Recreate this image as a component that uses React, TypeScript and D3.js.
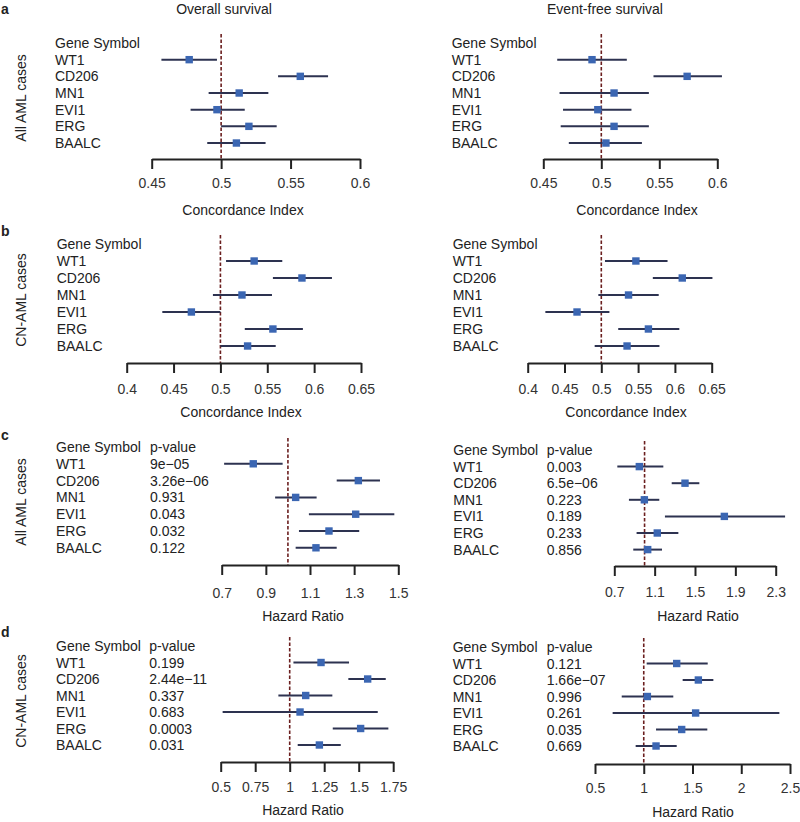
import React, {useEffect, useRef} from 'react';
import * as d3 from 'd3';

const genes = ['WT1', 'CD206', 'MN1', 'EVI1', 'ERG', 'BAALC'];

// a: concordance index, all AML cases
const osAllCi = [0.477, 0.557, 0.513, 0.497, 0.520, 0.511];
const osAllCiLow = [0.457, 0.541, 0.491, 0.478, 0.500, 0.490];
const osAllCiHigh = [0.497, 0.577, 0.534, 0.517, 0.540, 0.532];
const efsAllCi = [0.492, 0.574, 0.511, 0.497, 0.511, 0.504];
const efsAllCiLow = [0.462, 0.545, 0.464, 0.467, 0.465, 0.472];
const efsAllCiHigh = [0.522, 0.604, 0.541, 0.526, 0.541, 0.535];

// b: concordance index, CN-AML cases
const osCnCi = [0.536, 0.587, 0.523, 0.469, 0.556, 0.529];
const osCnCiLow = [0.506, 0.556, 0.492, 0.438, 0.526, 0.500];
const osCnCiHigh = [0.566, 0.619, 0.555, 0.500, 0.588, 0.559];
const efsCnCi = [0.547, 0.610, 0.537, 0.467, 0.564, 0.535];
const efsCnCiLow = [0.505, 0.570, 0.496, 0.424, 0.523, 0.491];
const efsCnCiHigh = [0.590, 0.651, 0.578, 0.511, 0.606, 0.579];

// c: hazard ratio, all AML cases
const osAllHr = [0.843, 1.319, 1.035, 1.307, 1.186, 1.127];
const osAllHrLow = [0.711, 1.221, 0.942, 1.095, 1.050, 1.035];
const osAllHrHigh = [0.976, 1.417, 1.130, 1.482, 1.323, 1.221];
const osAllP = ['9e\u221205', '3.26e\u221206', '0.931', '0.043', '0.032', '0.122'];
const efsAllHr = [0.948, 1.401, 0.998, 1.791, 1.126, 1.031];
const efsAllHrLow = [0.730, 1.269, 0.845, 1.202, 0.921, 0.888];
const efsAllHrHigh = [1.186, 1.543, 1.146, 2.393, 1.335, 1.173];
const efsAllP = ['0.003', '6.5e\u221206', '0.223', '0.189', '0.233', '0.856'];

// d: hazard ratio, CN-AML cases
const osCnHr = [1.227, 1.565, 1.116, 1.075, 1.514, 1.215];
const osCnHrLow = [1.027, 1.425, 0.918, 0.514, 1.312, 1.058];
const osCnHrHigh = [1.430, 1.696, 1.309, 1.638, 1.715, 1.370];
const osCnP = ['0.199', '2.44e\u221211', '0.337', '0.683', '0.0003', '0.031'];
const efsCnHr = [1.338, 1.560, 1.037, 1.532, 1.389, 1.126];
const efsCnHrLow = [1.030, 1.399, 0.774, 0.681, 1.126, 0.917];
const efsCnHrHigh = [1.656, 1.714, 1.303, 2.391, 1.652, 1.338];
const efsCnP = ['0.121', '1.66e\u221207', '0.996', '0.261', '0.035', '0.669'];

const ticksA = [0.45, 0.5, 0.55, 0.6];
const ticksB = [0.4, 0.45, 0.5, 0.55, 0.6, 0.65];
const ticksCLeft = [0.7, 0.9, 1.1, 1.3, 1.5];
const ticksCRight = [0.7, 1.1, 1.5, 1.9, 2.3];
const ticksDLeft = [0.5, 0.75, 1, 1.25, 1.5, 1.75];
const ticksDRight = [0.5, 1, 1.5, 2, 2.5];

const FONT = '"Liberation Sans", Arial, sans-serif';

export default function App() {
    const svgRef = useRef(null);

    useEffect(() => {
        const svg = d3.select(svgRef.current);
        svg.selectAll('*').remove();

        const panels = [
            {est: osAllCi, lo: osAllCiLow, hi: osAllCiHigh, ticks: ticksA, ref: 0.5, range: [151.7, 360], labelX: 55,
                headerY: 43, step: 16.67, axisY: 159, pad: 9, xlab: 'Concordance Index', xlabX: 243, xlabY: 210},
            {est: efsAllCi, lo: efsAllCiLow, hi: efsAllCiHigh, ticks: ticksA, ref: 0.5, range: [543.3, 717.3], labelX: 451.7,
                headerY: 43, step: 16.67, axisY: 159, pad: 9, xlab: 'Concordance Index', xlabX: 637, xlabY: 210},
            {est: osCnCi, lo: osCnCiLow, hi: osCnCiHigh, ticks: ticksB, ref: 0.5, range: [126.7, 361], labelX: 56.7,
                headerY: 244, step: 17, axisY: 363, pad: 11, xlab: 'Concordance Index', xlabX: 241, xlabY: 412},
            {est: efsCnCi, lo: efsCnCiLow, hi: efsCnCiHigh, ticks: ticksB, ref: 0.5, range: [527.7, 711.7], labelX: 452.7,
                headerY: 244, step: 17, axisY: 363, pad: 11, xlab: 'Concordance Index', xlabX: 626, xlabY: 412},
            {est: osAllHr, lo: osAllHrLow, hi: osAllHrHigh, p: osAllP, ticks: ticksCLeft, ref: 1, range: [221.7, 398.3], labelX: 56, pX: 150,
                headerY: 447, step: 16.8, axisY: 565, pad: 13, xlab: 'Hazard Ratio', xlabX: 303, xlabY: 616},
            {est: efsAllHr, lo: efsAllHrLow, hi: efsAllHrHigh, p: efsAllP, ticks: ticksCRight, ref: 1, range: [614.3, 775.7], labelX: 453.3, pX: 546.7,
                headerY: 450, step: 16.6, axisY: 566, pad: 11, xlab: 'Hazard Ratio', xlabX: 698, xlabY: 616},
            {est: osCnHr, lo: osCnHrLow, hi: osCnHrHigh, p: osCnP, ticks: ticksDLeft, ref: 1, range: [220.7, 393.2], labelX: 56, pX: 149.3,
                headerY: 646, step: 16.5, axisY: 762, pad: 10, xlab: 'Hazard Ratio', xlabX: 303, xlabY: 810},
            {est: efsCnHr, lo: efsCnHrLow, hi: efsCnHrHigh, p: efsCnP, ticks: ticksDRight, ref: 1, range: [595, 790], labelX: 452.7, pX: 546.7,
                headerY: 647, step: 16.5, axisY: 764, pad: 9, xlab: 'Hazard Ratio', xlabX: 693, xlabY: 812},
        ];

        panels.forEach(pn => {
            const g = svg.append('g').attr('font-family', FONT).attr('font-size', 14).attr('fill', '#222');

            const x = d3.scaleLinear()
                .domain([pn.ticks[0], pn.ticks[pn.ticks.length - 1]])
                .range(pn.range);

            const y = d3.scalePoint()
                .domain(['header', ...genes])
                .range([pn.headerY, pn.headerY + 6 * pn.step]);

            // label columns
            g.append('text')
                .attr('x', pn.labelX)
                .attr('y', y('header'))
                .attr('dy', '0.36em')
                .text('Gene Symbol');
            g.selectAll('.gene')
                .data(genes)
                .enter()
                .append('text')
                .attr('x', pn.labelX)
                .attr('y', d => y(d))
                .attr('dy', '0.36em')
                .text(d => d);

            if (pn.p) {
                g.append('text')
                    .attr('x', pn.pX)
                    .attr('y', y('header'))
                    .attr('dy', '0.36em')
                    .text('p-value');
                g.selectAll('.pval')
                    .data(pn.p)
                    .enter()
                    .append('text')
                    .attr('x', pn.pX)
                    .attr('y', (d, i) => y(genes[i]))
                    .attr('dy', '0.36em')
                    .text(d => d);
            }

            // reference line
            g.append('line')
                .attr('x1', x(pn.ref))
                .attr('x2', x(pn.ref))
                .attr('y1', pn.headerY - 9)
                .attr('y2', pn.axisY)
                .attr('stroke', '#6b1f1f')
                .attr('stroke-width', 1.6)
                .attr('stroke-dasharray', '3.5,2');

            // x axis
            const axis = g.append('g')
                .attr('transform', `translate(0,${pn.axisY})`)
                .call(d3.axisBottom(x)
                    .tickValues(pn.ticks)
                    .tickSize(10)
                    .tickSizeOuter(0)
                    .tickPadding(pn.pad)
                    .tickFormat(d => String(d)));
            axis.select('.domain').attr('stroke', '#222').attr('stroke-width', 2);
            axis.selectAll('.tick line').attr('stroke', '#222').attr('stroke-width', 2);
            axis.selectAll('.tick text')
                .attr('font-family', FONT)
                .attr('font-size', 14)
                .attr('fill', '#333');

            g.append('text')
                .attr('x', pn.xlabX)
                .attr('y', pn.xlabY)
                .attr('dy', '0.36em')
                .attr('text-anchor', 'middle')
                .text(pn.xlab);

            // confidence intervals
            g.selectAll('.ci')
                .data(genes)
                .enter()
                .append('line')
                .attr('x1', (d, i) => x(pn.lo[i]))
                .attr('x2', (d, i) => x(pn.hi[i]))
                .attr('y1', d => y(d))
                .attr('y2', d => y(d))
                .attr('stroke', '#2d3250')
                .attr('stroke-width', 2);

            g.selectAll('.box')
                .data(genes)
                .enter()
                .append('rect')
                .attr('x', (d, i) => x(pn.est[i]) - 3.7)
                .attr('y', d => y(d) - 3.7)
                .attr('width', 7.4)
                .attr('height', 7.4)
                .attr('fill', '#3b66b2');
        });

        const titles = svg.append('g').attr('font-family', FONT).attr('font-size', 14).attr('fill', '#222');
        titles.append('text').attr('x', 224).attr('y', 9).attr('dy', '0.36em')
            .attr('text-anchor', 'middle').text('Overall survival');
        titles.append('text').attr('x', 605).attr('y', 9).attr('dy', '0.36em')
            .attr('text-anchor', 'middle').text('Event-free survival');

        const letters = [['a', 9], ['b', 231], ['c', 435], ['d', 632]];
        letters.forEach(([l, yy]) => {
            titles.append('text')
                .attr('x', 1)
                .attr('y', yy)
                .attr('dy', '0.36em')
                .attr('font-weight', 'bold')
                .text(l);
        });

        const sideLabels = [['All AML cases', 98], ['CN-AML cases', 300], ['All AML cases', 502], ['CN-AML cases', 701]];
        sideLabels.forEach(([l, yy]) => {
            titles.append('text')
                .attr('transform', `translate(21,${yy}) rotate(-90)`)
                .attr('dy', '0.36em')
                .attr('text-anchor', 'middle')
                .text(l);
        });
    }, []);

    return (
        <div style={{position: 'absolute', left: 0, top: 0, background: '#fff'}}>
            <svg ref={svgRef} width={800} height={822} style={{display: 'block'}}></svg>
        </div>
    );
}
